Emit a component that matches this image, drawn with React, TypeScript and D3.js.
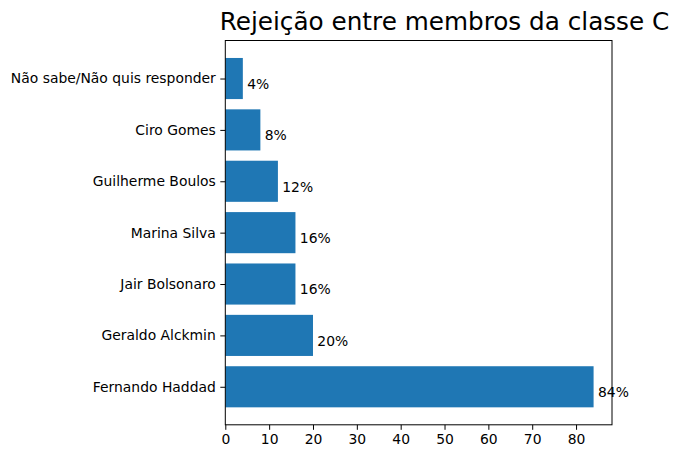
import * as d3 from 'd3'
import { useEffect, useRef } from 'react';

// valores de baixo para cima (ordem do matplotlib)
const candidatos = ['Fernando Haddad', 'Geraldo Alckmin', 'Jair Bolsonaro', 'Marina Silva', 'Guilherme Boulos', 'Ciro Gomes', 'Não sabe/Não quis responder'];
const rejeicao = [84, 20, 16, 16, 12, 8, 4];
const xTicks = [0, 10, 20, 30, 40, 50, 60, 70, 80];
const titulo = 'Rejeição entre membros da classe C';

function desenha(svgEl: SVGSVGElement) {
    const svg = d3.select(svgEl);
    svg.selectAll('*').remove();
    const left = 225.3, right = 612, top = 40.5, bottom = 424.8;
    const font = 'DejaVu Sans, sans-serif';
    const fs = 13.9;

    const n = candidatos.length;
    const xSc = d3.scaleLinear().domain([0, d3.max(rejeicao)! * 1.05]).range([left, right]);
    // eixo categórico: barras de altura 0.8 com margem de 5%
    const lo = -0.4, hi = n - 1 + 0.4, m = (hi - lo) * 0.05;
    const ySc = d3.scaleLinear().domain([lo - m, hi + m]).range([bottom, top]);

    const g = svg.append('g');
    g.selectAll('rect').data(rejeicao).enter().append('rect')
        .attr('x', xSc(0))
        .attr('y', (d, i) => ySc(i + 0.4))
        .attr('width', d => xSc(d) - xSc(0))
        .attr('height', (d, i) => ySc(i - 0.4) - ySc(i + 0.4))
        .attr('fill', '#1f77b4');

    g.selectAll('text.lbl').data(rejeicao).enter().append('text')
        .attr('class', 'lbl')
        .attr('x', d => xSc(d + 1))
        .attr('y', (d, i) => ySc(i - 0.2))
        .attr('font-family', font).attr('font-size', fs)
        .text(d => d + '%');

    // eixo x
    const xAx = svg.append('g').attr('transform', `translate(0,${bottom})`)
        .call(d3.axisBottom(xSc).tickValues(xTicks).tickSize(5).tickPadding(4.5));
    xAx.select('.domain').remove();
    xAx.selectAll('text').attr('font-family', font).attr('font-size', fs).attr('fill', '#000');
    xAx.selectAll('line').attr('stroke', '#000');

    // eixo y
    const yAx = svg.append('g').attr('transform', `translate(${left},0)`)
        .call(d3.axisLeft(ySc).tickValues(d3.range(n)).tickFormat((d: any) => candidatos[d]).tickSize(5).tickPadding(4.5));
    yAx.select('.domain').remove();
    yAx.selectAll('text').attr('font-family', font).attr('font-size', fs).attr('fill', '#000');
    yAx.selectAll('line').attr('stroke', '#000');

    svg.append('rect').attr('x', left).attr('y', top)
        .attr('width', right - left).attr('height', bottom - top)
        .attr('fill', 'none').attr('stroke', '#000').attr('stroke-width', 1);

    svg.append('text').attr('x', 444.5).attr('y', 30)
        .attr('text-anchor', 'middle')
        .attr('font-family', font).attr('font-size', 24.7)
        .text(titulo);
}

function App() {
    const ref = useRef<SVGSVGElement>(null);
    useEffect(() => {
        if (ref.current) desenha(ref.current);
    });
    return (
        <svg ref={ref} width={683} height={459}
            style={{ position: 'absolute', left: 0, top: 0, background: '#fff' }}>
        </svg>
    );
}

export default App;
